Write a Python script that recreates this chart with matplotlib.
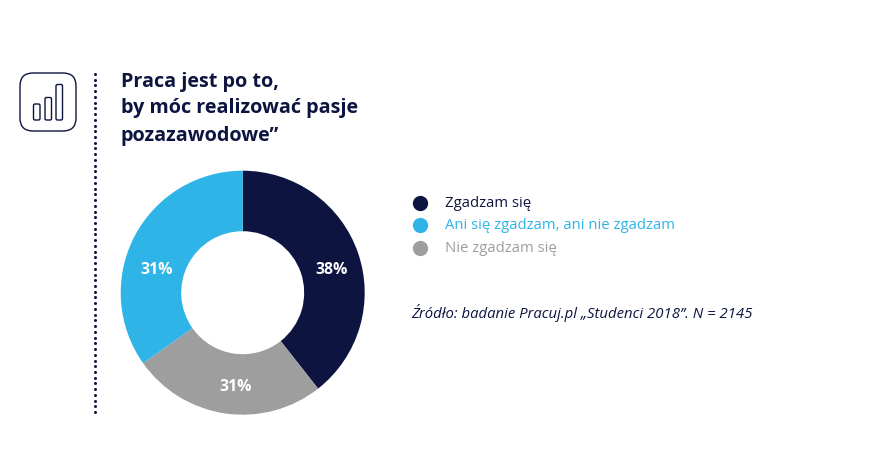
import matplotlib
matplotlib.use("Agg")
import matplotlib.pyplot as plt
from matplotlib.patches import FancyBboxPatch

title_lines = ["Praca jest po to,", "by móc realizować pasje", "pozazawodowe”"]
slice_names = ["Zgadzam się", "Nie zgadzam się", "Ani się zgadzam, ani nie zgadzam"]
slice_values = [39.4, 25.8, 34.8]
slice_labels = ["38%", "31%", "31%"]
legend_names = ["Zgadzam się", "Ani się zgadzam, ani nie zgadzam", "Nie zgadzam się"]
source = "Źródło: badanie Pracuj.pl „Studenci 2018”. N = 2145"

NAVY, BLUE, GREY = "#0C143F", "#2FB4E8", "#9E9E9E"
W, H = 881, 463
plt.rcParams["font.family"] = ["Open Sans", "DejaVu Sans"]
fig = plt.figure(figsize=(W / 100, H / 100), dpi=100, facecolor="white")

# overlay in pixel coordinates
ov = fig.add_axes([0, 0, 1, 1])
ov.set_xlim(0, W); ov.set_ylim(H, 0); ov.axis("off")

# icon
ov.add_patch(FancyBboxPatch((28, 81), 40, 42, boxstyle="round,pad=8,rounding_size=13",
                            fc="white", ec=NAVY, lw=1.0))
for x, top in [(33.5, 104), (45, 97.5), (56, 84.5)]:
    ov.add_patch(FancyBboxPatch((x, top), 6.5, 120 - top, boxstyle="round,pad=0,rounding_size=1.5",
                                fc="white", ec=NAVY, lw=1.0))
# dotted rule
ys = [74 + i * 5.73 for i in range(60)]
ov.scatter([94.7] * len(ys), ys, s=4.7, color=NAVY, lw=0)

# title
for txt, y in zip(title_lines, [82, 108, 136]):
    ov.text(121, y, txt, fontsize=14.25, fontweight="bold", color=NAVY, va="center", ha="left")

# legend
for name, col, y in zip(legend_names, [NAVY, BLUE, GREY], [203, 225, 248]):
    ov.scatter([420], [y], s=121, color=col, lw=0)
    ov.text(445, y + 0.8, name, fontsize=10.7, color=col, va="center", ha="left")

ov.text(411.5, 313.5, source, fontsize=10.7, style="italic", color=NAVY, va="center", ha="left")

# donut
cx, cy, r = 242.7, 292.7, 122
ax = fig.add_axes([(cx - r) / W, 1 - (cy + r) / H, 2 * r / W, 2 * r / H])
ax.pie(slice_values, colors=[NAVY, GREY, BLUE], startangle=90, counterclock=False,
       radius=1, wedgeprops=dict(width=0.496, lw=0))
ax.set_xlim(-1, 1); ax.set_ylim(-1, 1); ax.axis("off")

for lab, x, y in zip(slice_labels, [331.5, 235.5, 156.8], [270, 387, 270]):
    fig.text(x / W, 1 - y / H, lab, fontsize=11.4, fontweight="bold", color="white",
             ha="center", va="center")

fig.savefig("out.png", dpi=100)
